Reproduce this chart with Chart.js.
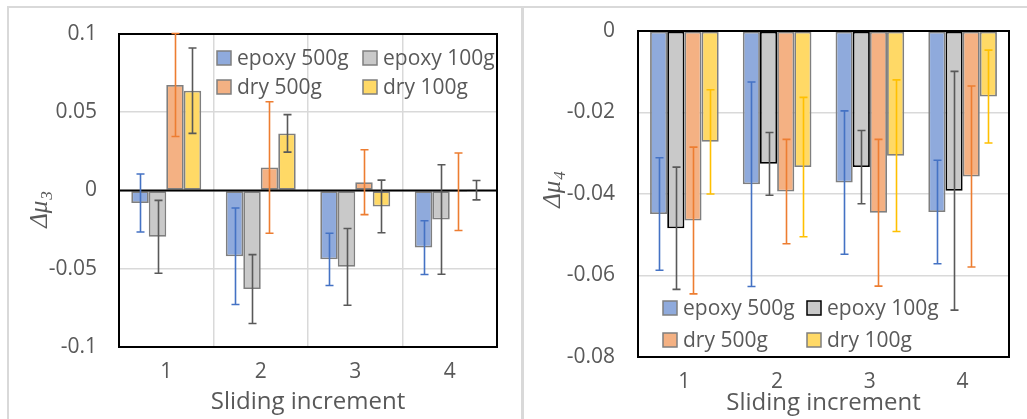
<!DOCTYPE html>
<html>
<head>
<meta charset="utf-8">
<script src="https://cdn.jsdelivr.net/npm/chart.js@4.4.0/dist/chart.umd.min.js"></script>
<style>
  body { margin: 0; background: #fff; width: 1027px; height: 419px; overflow: hidden; position: relative; }
  .panel { position: absolute; top: 6px; border-top: 2px solid #d9d9d9; }
  #p1 { left: 7px; width: 512px; height: 411px; border-left: 2px solid #d9d9d9; }
  #p2 { left: 521px; width: 503px; height: 411px; border-left: 3px solid #d9d9d9; }
  canvas { display: block; }
</style>
</head>
<body>
<div class="panel" id="p1"><canvas id="mu3Chart" width="512" height="411"></canvas></div>
<div class="panel" id="p2"><canvas id="mu4Chart" width="503" height="411"></canvas></div>

<script>
const categories = ['1', '2', '3', '4'];
const seriesNames = ['epoxy 500g', 'epoxy 100g', 'dry 500g', 'dry 100g'];

// Δμ3 per sliding increment (bar = mean, err = half-width of the error bar)
const mu3Epoxy500 = [-0.008, -0.042, -0.044, -0.0365];
const mu3Epoxy100 = [-0.0296, -0.063, -0.0488, -0.0185];
const mu3Dry500 = [0.0674, 0.0147, 0.0053, -0.0008];
const mu3Dry100 = [0.0638, 0.0365, -0.0102, 0.0002];
const mu3ErrEpoxy500 = [0.0185, 0.0308, 0.0167, 0.0172];
const mu3ErrEpoxy100 = [0.0233, 0.022, 0.0245, 0.035];
const mu3ErrDry500 = [0.0329, 0.042, 0.0207, 0.0248];
const mu3ErrDry100 = [0.0273, 0.012, 0.0168, 0.0062];

// Δμ4 per sliding increment
const mu4Epoxy500 = [-0.0449, -0.0376, -0.0372, -0.0444];
const mu4Epoxy100 = [-0.0484, -0.0326, -0.0334, -0.0392];
const mu4Dry500 = [-0.0465, -0.0394, -0.0446, -0.0357];
const mu4Dry100 = [-0.0272, -0.0334, -0.0306, -0.0161];
const mu4ErrEpoxy500 = [0.0138, 0.0251, 0.0176, 0.0127];
const mu4ErrEpoxy100 = [0.015, 0.0077, 0.009, 0.0293];
const mu4ErrDry500 = [0.018, 0.0128, 0.018, 0.0222];
const mu4ErrDry100 = [0.0128, 0.0171, 0.0186, 0.0114];

const mu3Ticks = [-0.1, -0.05, 0, 0.05, 0.1];
const mu4Ticks = [-0.08, -0.06, -0.04, -0.02, 0];

const xTitle = 'Sliding increment';

const fills = ['#8faadc', '#c9c9c9', '#f4b183', '#ffd966'];
const textGrey = '#595959';
const fontFamily = "'Open Sans', sans-serif";

// error bars drawn from each dataset's "errors" array
const errorBars = {
    id: 'errorBars',
    afterDatasetsDraw(chart) {
        const ctx = chart.ctx;
        const yScale = chart.scales.y;
        chart.data.datasets.forEach(function (ds, i) {
            const meta = chart.getDatasetMeta(i);
            ctx.save();
            ctx.strokeStyle = ds.errorColor;
            ctx.lineWidth = 1.6;
            meta.data.forEach(function (bar, j) {
                const v = ds.data[j];
                const e = ds.errors[j];
                const top = yScale.getPixelForValue(v + e);
                const bot = yScale.getPixelForValue(v - e);
                const x = Math.round(bar.x) + 0.5;
                ctx.beginPath();
                ctx.moveTo(x, top); ctx.lineTo(x, bot);
                ctx.moveTo(x - 4, top); ctx.lineTo(x + 4, top);
                ctx.moveTo(x - 4, bot); ctx.lineTo(x + 4, bot);
                ctx.stroke();
            });
            ctx.restore();
        });
    }
};

// black plot frame plus the zero axis line
const plotFrame = {
    id: 'plotFrame',
    afterDatasetsDraw(chart) {
        const ctx = chart.ctx;
        const a = chart.chartArea;
        const y0 = chart.scales.y.getPixelForValue(0);
        ctx.save();
        ctx.strokeStyle = '#000';
        ctx.lineWidth = 2;
        ctx.beginPath();
        ctx.moveTo(a.left, y0); ctx.lineTo(a.right, y0);
        ctx.stroke();
        ctx.strokeRect(a.left, a.top, a.right - a.left, a.bottom - a.top);
        ctx.restore();
    }
};

// two-column legend placed inside the plot area
const boxLegend = {
    id: 'boxLegend',
    afterDraw(chart, args, opts) {
        const ctx = chart.ctx;
        const a = chart.chartArea;
        ctx.save();
        ctx.font = '21px ' + fontFamily;
        ctx.textBaseline = 'middle';
        chart.data.datasets.forEach(function (ds, i) {
            const bx = a.left + opts.cols[i % 2];
            const cy = a.top + opts.rows[Math.floor(i / 2)];
            ctx.fillStyle = ds.backgroundColor;
            ctx.fillRect(bx, cy - 7, 14, 14);
            ctx.strokeStyle = ds.borderColor;
            ctx.lineWidth = 1.5;
            ctx.strokeRect(bx, cy - 7, 14, 14);
            ctx.fillStyle = textGrey;
            ctx.fillText(ds.label, bx + 20, cy + 1);
        });
        ctx.restore();
    }
};

// axis titles: plain x title, rotated y title with a subscript
const axisTitles = {
    id: 'axisTitles',
    afterDraw(chart, args, opts) {
        const ctx = chart.ctx;
        const a = chart.chartArea;
        ctx.save();
        ctx.fillStyle = textGrey;
        ctx.font = '24px ' + fontFamily;
        ctx.textAlign = 'center';
        ctx.textBaseline = 'middle';
        ctx.fillText(xTitle, (a.left + a.right) / 2, opts.xTitleY);

        ctx.translate(opts.yTitleX, opts.yTitleY);
        ctx.rotate(-Math.PI / 2);
        ctx.textAlign = 'left';
        ctx.textBaseline = 'alphabetic';
        const mainFont = 'italic 25px "Liberation Serif", serif';
        const subFont = 'italic 17px "Liberation Serif", serif';
        const main = 'Δμ';
        ctx.font = mainFont;
        const wMain = ctx.measureText(main).width;
        ctx.font = subFont;
        const wSub = ctx.measureText(opts.sub).width;
        const x0 = -(wMain + wSub) / 2;
        ctx.font = mainFont;
        ctx.fillText(main, x0, 8);
        ctx.font = subFont;
        ctx.fillText(opts.sub, x0 + wMain + 1, 13);
        ctx.restore();
    }
};

function makeDatasets(values, errors, borders, errColors) {
    return seriesNames.map(function (name, i) {
        return {
            label: name,
            data: values[i],
            errors: errors[i],
            errorColor: errColors[i],
            backgroundColor: fills[i],
            borderColor: borders[i],
            borderWidth: 1.8,
            borderSkipped: false,
            categoryPercentage: 0.74,
            barPercentage: 1.0
        };
    });
}

function makeChart(canvasId, cfg) {
    const el = document.getElementById(canvasId);
    if (!el) {
        console.error('canvas ' + canvasId + ' not found');
        return;
    }
    new Chart(el.getContext('2d'), {
        type: 'bar',
        data: { labels: categories, datasets: cfg.datasets },
        options: {
            responsive: false,
            animation: false,
            layout: { padding: { top: cfg.padTop, right: cfg.padRight, left: 0, bottom: 0 } },
            scales: {
                x: {
                    grid: { display: cfg.xGrid, offset: true, color: '#d9d9d9', lineWidth: 1.5, drawTicks: false },
                    border: { display: false },
                    ticks: { color: textGrey, font: { family: fontFamily, size: 21 }, padding: 12 },
                    afterFit: function (scale) { scale.height = cfg.xHeight; }
                },
                y: {
                    min: cfg.ticks[0],
                    max: cfg.ticks[cfg.ticks.length - 1],
                    afterBuildTicks: function (axis) {
                        axis.ticks = cfg.ticks.map(function (v) { return { value: v }; });
                    },
                    grid: { color: '#d9d9d9', lineWidth: 1.5, drawTicks: false },
                    border: { display: false },
                    ticks: {
                        color: textGrey,
                        font: { family: fontFamily, size: 21 },
                        padding: cfg.yPad,
                        callback: function (value) { return String(value); }
                    },
                    afterFit: function (scale) {
                        // keep the tick padding from pushing the plot area down
                        scale.width = cfg.yWidth;
                        scale.paddingTop = 0;
                        scale.paddingBottom = 0;
                    }
                }
            },
            plugins: {
                legend: { display: false },
                tooltip: { enabled: false },
                boxLegend: cfg.legend,
                axisTitles: cfg.titles
            }
        },
        plugins: [plotFrame, errorBars, boxLegend, axisTitles]
    });
}

document.addEventListener('DOMContentLoaded', function () {
    // --- Δμ3 ---
    makeChart('mu3Chart', {
        datasets: makeDatasets(
            [mu3Epoxy500, mu3Epoxy100, mu3Dry500, mu3Dry100],
            [mu3ErrEpoxy500, mu3ErrEpoxy100, mu3ErrDry500, mu3ErrDry100],
            ['#7f7f7f', '#7f7f7f', '#7f7f7f', '#7f7f7f'],
            ['#4472c4', '#595959', '#ed7d31', '#595959']
        ),
        ticks: mu3Ticks,
        xGrid: true,
        padTop: 26, padRight: 24, xHeight: 72, yWidth: 110, yPad: 22,
        legend: { cols: [98, 244], rows: [24, 53] },
        titles: { xTitleY: 394, yTitleX: 30, yTitleY: 202, sub: '3' }
    });

    // --- Δμ4 ---
    makeChart('mu4Chart', {
        datasets: makeDatasets(
            [mu4Epoxy500, mu4Epoxy100, mu4Dry500, mu4Dry100],
            [mu4ErrEpoxy500, mu4ErrEpoxy100, mu4ErrDry500, mu4ErrDry100],
            ['#7f7f7f', '#000000', '#7f7f7f', '#7f7f7f'],
            ['#4472c4', '#595959', '#ed7d31', '#ffc000']
        ),
        ticks: mu4Ticks,
        xGrid: false,
        padTop: 23, padRight: 18, xHeight: 62, yWidth: 114, yPad: 23,
        legend: { cols: [25, 169], rows: [277, 309] },
        titles: { xTitleY: 395, yTitleX: 28, yTitleY: 182, sub: '4' }
    });
});
</script>
</body>
</html>
